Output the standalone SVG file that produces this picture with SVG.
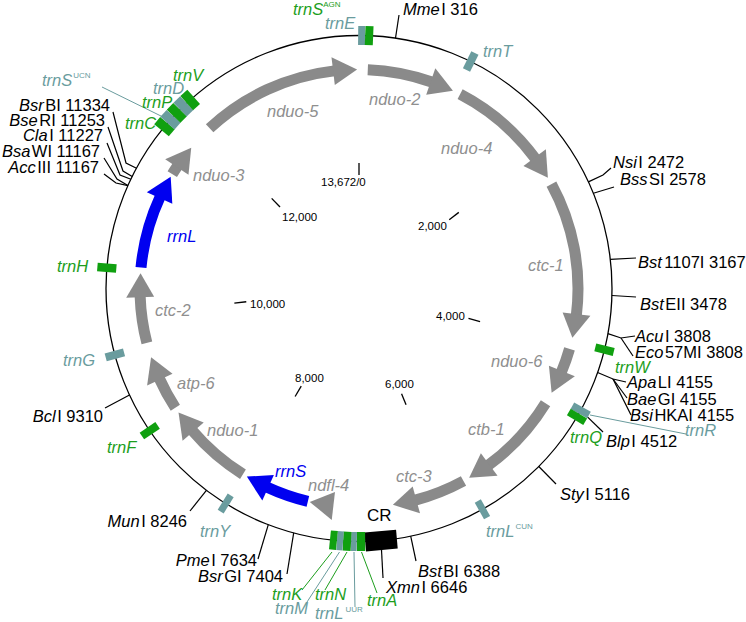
<svg xmlns="http://www.w3.org/2000/svg" xmlns:xlink="http://www.w3.org/1999/xlink" width="746" height="622" viewBox="0 0 746 622">
<style>
text{font-family:"Liberation Sans",Arial,sans-serif}
.ring{fill:none;stroke:#000;stroke-width:1.3}
.body{fill:none;stroke-width:11}
.sg{stroke:#8a8a8a}.sb{stroke:#0000f0}
.fg{fill:#8a8a8a}.fb{fill:#0000f0}
.gene{font-style:italic;font-size:16.5px;fill:#8f8f8f}
.blue{fill:#0000f0}
.site{font-size:16.5px;fill:#000}
.i{font-style:italic}
.tk{font-size:11.5px;fill:#000}
.tkl{stroke:#000;stroke-width:1.3}
.lab{font-style:italic;font-size:16.5px}
.G{fill:#1d9e1d}.T{fill:#6a9c9e}
.bG{fill:#10a010}.bT{fill:#6a9c9e}.bK{fill:#000}
.sup{font-size:8px;font-style:normal}
.lead{fill:none;stroke:#000;stroke-width:1.2}
.lg{fill:none;stroke:#1d9e1d;stroke-width:1}
.lt{fill:none;stroke:#6a9c9e;stroke-width:1}
</style>
<defs>
<path id="hd" d="M359,69.5 L333.5,56.9 L336.6,84.7 Z"/>
</defs>
<circle id="ring" class="ring" cx="359" cy="288.5" r="253"/>
<g id="scale">
<line class="tkl" x1="359" y1="163" x2="359" y2="175"/>
<line class="tkl" x1="359" y1="163" x2="359" y2="175" transform="rotate(52.66 359 288.5)"/>
<line class="tkl" x1="359" y1="163" x2="359" y2="175" transform="rotate(105.3 359 288.5)"/>
<line class="tkl" x1="359" y1="163" x2="359" y2="175" transform="rotate(157.98 359 288.5)"/>
<line class="tkl" x1="359" y1="163" x2="359" y2="175" transform="rotate(210.6 359 288.5)"/>
<line class="tkl" x1="359" y1="163" x2="359" y2="175" transform="rotate(263.3 359 288.5)"/>
<line class="tkl" x1="359" y1="163" x2="359" y2="175" transform="rotate(315.9 359 288.5)"/>
<text class="tk" x="321" y="186">13,672/0</text>
<text class="tk" x="418" y="230">2,000</text>
<text class="tk" x="436" y="320">4,000</text>
<text class="tk" x="385" y="388">6,000</text>
<text class="tk" x="295" y="382">8,000</text>
<text class="tk" x="250" y="308">10,000</text>
<text class="tk" x="282" y="221">12,000</text>
</g>
<g id="genes">
<g id="nduo-5"><circle class="body sg" cx="359" cy="288.5" r="219" stroke-dasharray="139.5 2000" transform="rotate(227 359 288.5)"/><use xlink:href="#hd" class="fg" transform="rotate(359.5 359 288.5)"/><text class="gene" x="267" y="117">nduo-5</text></g>
<g id="nduo-2"><circle class="body sg" cx="359" cy="288.5" r="219" stroke-dasharray="65.4 2000" transform="rotate(-87.7 359 288.5)"/><use xlink:href="#hd" class="fg" transform="rotate(25.4 359 288.5)"/><text class="gene" x="369" y="105">nduo-2</text></g>
<g id="nduo-4"><circle class="body sg" cx="359" cy="288.5" r="219" stroke-dasharray="99.8 2000" transform="rotate(-62.5 359 288.5)"/><use xlink:href="#hd" class="fg" transform="rotate(59.6 359 288.5)"/><text class="gene" x="441" y="154">nduo-4</text></g>
<g id="ctc-1"><circle class="body sg" cx="359" cy="288.5" r="219" stroke-dasharray="135.7 2000" transform="rotate(-28.5 359 288.5)"/><use xlink:href="#hd" class="fg" transform="rotate(103 359 288.5)"/><text class="gene" x="528" y="271">ctc-1</text></g>
<g id="nduo-6"><circle class="body sg" cx="359" cy="288.5" r="219" stroke-dasharray="24.5 2000" transform="rotate(16 359 288.5)"/><use xlink:href="#hd" class="fg" transform="rotate(118.4 359 288.5)"/><text class="gene" x="491" y="367">nduo-6</text></g>
<g id="ctb-1"><circle class="body sg" cx="359" cy="288.5" r="219" stroke-dasharray="84.9 2000" transform="rotate(31.6 359 288.5)"/><use xlink:href="#hd" class="fg" transform="rotate(149.8 359 288.5)"/><text class="gene" x="468" y="435">ctb-1</text></g>
<g id="ctc-3"><circle class="body sg" cx="359" cy="288.5" r="219" stroke-dasharray="52 2000" transform="rotate(61.5 359 288.5)"/><use xlink:href="#hd" class="fg" transform="rotate(171.1 359 288.5)"/><text class="gene" x="396" y="482">ctc-3</text></g>
<g id="ndfl-4"><use xlink:href="#hd" class="fg" transform="rotate(193 359 288.5)"/><text class="gene" x="308" y="491">ndfl-4</text></g>
<g id="rrnS"><circle class="body sb" cx="359" cy="288.5" r="219" stroke-dasharray="43.2 2000" transform="rotate(103.5 359 288.5)"/><use xlink:href="#hd" class="fb" transform="rotate(210.8 359 288.5)"/><text class="gene blue" x="275" y="477">rrnS</text></g>
<g id="nduo-1"><circle class="body sg" cx="359" cy="288.5" r="219" stroke-dasharray="66.9 2000" transform="rotate(122 359 288.5)"/><use xlink:href="#hd" class="fg" transform="rotate(235.5 359 288.5)"/><text class="gene" x="207" y="436">nduo-1</text></g>
<g id="atp-6"><circle class="body sg" cx="359" cy="288.5" r="219" stroke-dasharray="33.3 2000" transform="rotate(147 359 288.5)"/><use xlink:href="#hd" class="fg" transform="rotate(251.7 359 288.5)"/><text class="gene" x="177" y="389">atp-6</text></g>
<g id="ctc-2"><circle class="body sg" cx="359" cy="288.5" r="219" stroke-dasharray="47.4 2000" transform="rotate(165.6 359 288.5)"/><use xlink:href="#hd" class="fg" transform="rotate(274 359 288.5)"/><text class="gene" x="155" y="316">ctc-2</text></g>
<g id="rrnL"><circle class="body sb" cx="359" cy="288.5" r="219" stroke-dasharray="73.4 2000" transform="rotate(185.5 359 288.5)"/><use xlink:href="#hd" class="fb" transform="rotate(300.7 359 288.5)"/><text class="gene blue" x="167" y="242">rrnL</text></g>
<g id="nduo-3"><circle class="body sg" cx="359" cy="288.5" r="219" stroke-dasharray="9.6 2000" transform="rotate(211.5 359 288.5)"/><use xlink:href="#hd" class="fg" transform="rotate(310 359 288.5)"/><text class="gene" x="193" y="181">nduo-3</text></g>
</g>
<g id="connectors">
<polyline class="lead" points="395.5,38.2 399,15"/>
<polyline class="lead" points="588.4,181.9 603,175 611,168"/>
<polyline class="lead" points="593.4,193.2 614,187"/>
<polyline class="lead" points="610.3,259.4 636,258"/>
<polyline class="lead" points="611.9,295.5 636,297"/>
<polyline class="lead" points="607.9,333.6 621,338 635,336"/>
<polyline class="lead" points="621,338 633,356"/>
<polyline class="lead" points="597.6,372.5 613,379 626,382"/>
<polyline class="lead" points="613,379 627,398"/>
<polyline class="lead" points="613,379 631,415"/>
<polyline class="lead" points="580.7,410.4 603,432"/>
<polyline class="lead" points="538.8,466.5 556,484"/>
<polyline class="lead" points="410.7,536.2 416,561"/>
<polyline class="lead" points="381,540.5 383,578"/>
<polyline class="lead" points="293.7,532.9 287,574"/>
<polyline class="lead" points="268.3,524.7 258,559"/>
<polyline class="lead" points="206.4,490.3 190,511"/>
<polyline class="lead" points="129.5,395 105,408"/>
<polyline class="lead" points="136.5,168.2 126,163 113,112"/>
<polyline class="lead" points="132.2,176.4 123,171 108,127"/>
<polyline class="lead" points="130.9,179.2 120,175 107,143"/>
<polyline class="lead" points="127.9,185.6 117,179 104,158"/>
<polyline class="lead" points="127.9,185.6 116,183 104,174"/>
<line class="lt" x1="102" y1="87" x2="163" y2="117"/>
<line class="lt" x1="590" y1="415" x2="686" y2="434"/>
<line class="lg" x1="332" y1="552" x2="302" y2="590"/>
<line class="lt" x1="339.5" y1="552" x2="307" y2="602"/>
<line class="lg" x1="347" y1="552" x2="325" y2="590"/>
<line class="lt" x1="354" y1="552" x2="355" y2="607"/>
<line class="lg" x1="361.5" y1="552" x2="377" y2="593"/>
</g>
<g id="features">
<g id="trnE"><rect class="bT" x="355.5" y="26" width="7" height="19" transform="rotate(0.6 359 288.5)"/><text class="lab T" x="325" y="29">trnE</text></g>
<g id="trnS-AGN"><rect class="bG" x="355" y="26" width="8" height="19" transform="rotate(2.3 359 288.5)"/><text class="lab G" x="293" y="15">trnS<tspan class="sup" dy="-8">AGN</tspan></text></g>
<g id="trnT"><rect class="bT" x="355" y="26" width="8" height="19" transform="rotate(26.2 359 288.5)"/><text class="lab T" x="483" y="57">trnT</text></g>
<g id="trnW"><rect class="bG" x="355" y="26" width="8" height="19" transform="rotate(104 359 288.5)"/><text class="lab G" x="615" y="373">trnW</text></g>
<g id="trnR"><rect class="bT" x="355.25" y="26" width="7.5" height="19" transform="rotate(118.8 359 288.5)"/><text class="lab T" x="685" y="436">trnR</text></g>
<g id="trnQ"><rect class="bG" x="355.25" y="26" width="7.5" height="19" transform="rotate(120.5 359 288.5)"/><text class="lab G" x="570" y="443">trnQ</text></g>
<g id="trnL-CUN"><rect class="bT" x="355.5" y="26" width="7" height="19" transform="rotate(150.8 359 288.5)"/><text class="lab T" x="486" y="537">trnL<tspan class="sup" dy="-8" dx="1">CUN</tspan></text></g>
<g id="CR"><rect class="bK" x="343.1" y="26" width="31.8" height="19" transform="rotate(175 359 288.5)"/><text x="367" y="521" font-size="17" fill="#000">CR</text></g>
<g id="trnA"><rect class="bG" x="354.8" y="26" width="8.4" height="19" transform="rotate(179.55 359 288.5)"/><text class="lab G" x="367" y="606">trnA</text></g>
<g id="trnL-UUR"><rect class="bT" x="356.15" y="26" width="5.7" height="19" transform="rotate(181.15 359 288.5)"/><text class="lab T" x="315" y="619">trnL<tspan class="sup" dy="-7" dx="2">UUR</tspan></text></g>
<g id="trnN"><rect class="bG" x="355" y="26" width="8" height="19" transform="rotate(182.7 359 288.5)"/><text class="lab G" x="315" y="600">trnN</text></g>
<g id="trnM"><rect class="bT" x="355.9" y="26" width="6.2" height="19" transform="rotate(184.3 359 288.5)"/><text class="lab T" x="275" y="614">trnM</text></g>
<g id="trnK"><rect class="bG" x="355.5" y="26" width="7" height="19" transform="rotate(185.8 359 288.5)"/><text class="lab G" x="272" y="600">trnK</text></g>
<g id="trnY"><rect class="bT" x="355.5" y="26" width="7" height="19" transform="rotate(211.8 359 288.5)"/><text class="lab T" x="200" y="537" font-style="normal">trnY</text></g>
<g id="trnF"><rect class="bG" x="355" y="26" width="8" height="19" transform="rotate(235.8 359 288.5)"/><text class="lab G" x="107" y="453">trnF</text></g>
<g id="trnG"><rect class="bT" x="355" y="26" width="8" height="19" transform="rotate(254.8 359 288.5)"/><text class="lab T" x="63" y="366">trnG</text></g>
<g id="trnH"><rect class="bG" x="354.75" y="26" width="8.5" height="19" transform="rotate(274.7 359 288.5)"/><text class="lab G" x="57" y="272">trnH</text></g>
<g id="trnC"><rect class="bG" x="354.35" y="26" width="9.3" height="19" transform="rotate(309.75 359 288.5)"/><text class="lab G" x="125" y="129">trnC</text></g>
<g id="trnS-UCN"><rect class="bT" x="354.35" y="26" width="9.3" height="19" transform="rotate(311.85 359 288.5)"/><text class="lab T" x="42" y="86">trnS<tspan class="sup" dy="-8" dx="1">UCN</tspan></text></g>
<g id="trnP"><rect class="bG" x="354.35" y="26" width="9.3" height="19" transform="rotate(313.95 359 288.5)"/><text class="lab G" x="142" y="108">trnP</text></g>
<g id="trnD"><rect class="bT" x="354.35" y="26" width="9.3" height="19" transform="rotate(316.05 359 288.5)"/><text class="lab T" x="153" y="94">trnD</text></g>
<g id="trnV"><rect class="bG" x="354.35" y="26" width="9.3" height="19" transform="rotate(318.15 359 288.5)"/><text class="lab G" x="173" y="81">trnV</text></g>
</g>
<g id="sites">
<text class="site" x="403" y="15"><tspan class="i">Mme</tspan><tspan dx="1.5">I 316</tspan></text>
<text class="site" x="613" y="168"><tspan class="i">Nsi</tspan><tspan dx="1.5">I 2472</tspan></text>
<text class="site" x="620" y="185"><tspan class="i">Bss</tspan><tspan dx="1.5">SI 2578</tspan></text>
<text class="site" x="638" y="268"><tspan class="i">Bst</tspan><tspan dx="2.5">1107I 3167</tspan></text>
<text class="site" x="640" y="310"><tspan class="i">Bst</tspan><tspan dx="1.5">EII 3478</tspan></text>
<text class="site" x="635" y="342"><tspan class="i">Acu</tspan><tspan dx="1.5">I 3808</tspan></text>
<text class="site" x="635" y="358"><tspan class="i">Eco</tspan><tspan dx="1.5">57MI 3808</tspan></text>
<text class="site" x="627" y="388"><tspan class="i">Apa</tspan><tspan dx="1.5">LI 4155</tspan></text>
<text class="site" x="627" y="405"><tspan class="i">Bae</tspan><tspan dx="1.5">GI 4155</tspan></text>
<text class="site" x="630" y="421"><tspan class="i">Bsi</tspan><tspan dx="1.5">HKAI 4155</tspan></text>
<text class="site" x="606" y="447"><tspan class="i">Blp</tspan><tspan dx="1.5">I 4512</tspan></text>
<text class="site" x="560" y="500"><tspan class="i">Sty</tspan><tspan dx="1.5">I 5116</tspan></text>
<text class="site" x="418" y="577"><tspan class="i">Bst</tspan><tspan dx="1.5">BI 6388</tspan></text>
<text class="site" x="386" y="593"><tspan class="i">Xmn</tspan><tspan dx="1.5">I 6646</tspan></text>
<text class="site" x="283" y="582" text-anchor="end"><tspan class="i">Bsr</tspan><tspan dx="1.5">GI 7404</tspan></text>
<text class="site" x="257" y="566" text-anchor="end"><tspan class="i">Pme</tspan><tspan dx="1.5">I 7634</tspan></text>
<text class="site" x="187" y="527" text-anchor="end"><tspan class="i">Mun</tspan><tspan dx="1.5">I 8246</tspan></text>
<text class="site" x="103" y="422" text-anchor="end"><tspan class="i">Bcl</tspan><tspan dx="1.5">I 9310</tspan></text>
<text class="site" x="110" y="111" text-anchor="end"><tspan class="i">Bsr</tspan><tspan dx="1.5">BI 11334</tspan></text>
<text class="site" x="105" y="126" text-anchor="end"><tspan class="i">Bse</tspan><tspan dx="1.5">RI 11253</tspan></text>
<text class="site" x="103" y="141" text-anchor="end"><tspan class="i">Cla</tspan><tspan dx="1.5">I 11227</tspan></text>
<text class="site" x="100" y="157" text-anchor="end"><tspan class="i">Bsa</tspan><tspan dx="1.5">WI 11167</tspan></text>
<text class="site" x="99" y="173" text-anchor="end"><tspan class="i">Acc</tspan><tspan dx="1.5">III 11167</tspan></text>
</g>
</svg>
